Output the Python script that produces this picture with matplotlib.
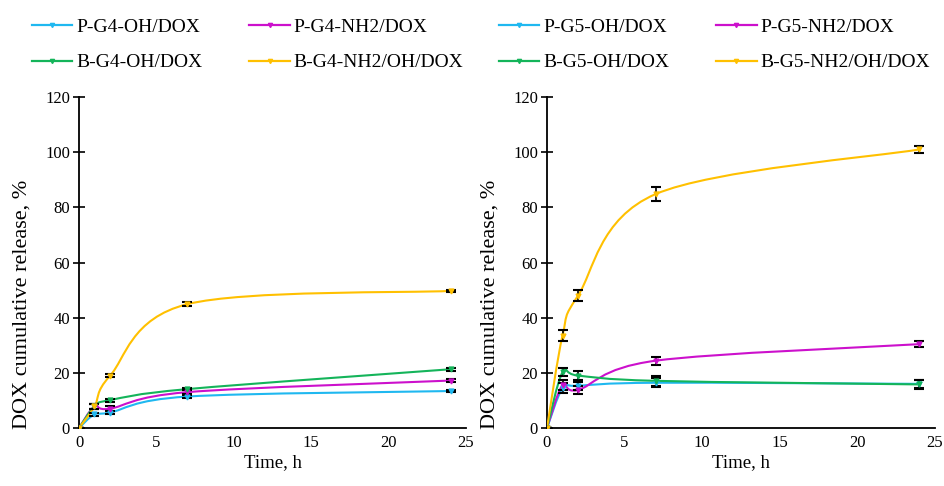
import numpy as np
import matplotlib
matplotlib.use("Agg")
import matplotlib.pyplot as plt
from matplotlib.path import Path
from matplotlib.patches import PathPatch

plt.rcParams['font.family'] = ['Liberation Serif', 'DejaVu Serif']

time_h = [0, 1, 2, 7, 24]

# Left panel (G4)
g4_labels = ["P-G4-OH/DOX", "P-G4-NH2/DOX", "B-G4-OH/DOX", "B-G4-NH2/OH/DOX"]
g4_p_oh = [0, 5.0, 5.6, 11.4, 13.4]
g4_p_nh2 = [0, 7.8, 7.0, 13.0, 17.2]
g4_b_oh = [0, 7.8, 10.1, 14.1, 21.3]
g4_b_nh2oh = [0, 7.8, 18.9, 44.9, 49.7]
g4_p_oh_err = [0, 0.6, 0.6, 0.6, 0.5]
g4_p_nh2_err = [0, 1.0, 0.8, 0.8, 0.5]
g4_b_oh_err = [0, 1.0, 0.5, 0.5, 0.5]
g4_b_nh2oh_err = [0, 1.0, 0.5, 0.6, 0.4]

# Right panel (G5)
g5_labels = ["P-G5-OH/DOX", "P-G5-NH2/DOX", "B-G5-OH/DOX", "B-G5-NH2/OH/DOX"]
g5_p_oh = [0, 14.4, 15.3, 16.4, 16.0]
g5_p_nh2 = [0, 15.6, 13.8, 24.4, 30.4]
g5_b_oh = [0, 20.2, 19.0, 17.1, 15.8]
g5_b_nh2oh = [0, 33.5, 48.0, 84.8, 101.0]
g5_p_oh_err = [0, 1.8, 1.5, 1.7, 1.5]
g5_p_nh2_err = [0, 1.8, 1.5, 1.5, 1.2]
g5_b_oh_err = [0, 1.5, 1.5, 1.7, 1.5]
g5_b_nh2oh_err = [0, 2.0, 2.0, 2.6, 1.2]

colors = ["#1FB8F0", "#CC10CC", "#14B45A", "#FFC000"]

x_ticks = [0, 5, 10, 15, 20, 25]
y_ticks = [0, 20, 40, 60, 80, 100, 120]


def smooth_path(x, y):
    x = np.asarray(x, float)
    y = np.asarray(y, float)
    n = len(x)
    verts = [(x[0], y[0])]
    codes = [Path.MOVETO]
    for i in range(n - 1):
        p0 = np.array([x[max(i - 1, 0)], y[max(i - 1, 0)]])
        p1 = np.array([x[i], y[i]])
        p2 = np.array([x[i + 1], y[i + 1]])
        p3 = np.array([x[min(i + 2, n - 1)], y[min(i + 2, n - 1)]])
        c1 = p1 + (p2 - p0) / 6.0
        c2 = p2 - (p3 - p1) / 6.0
        verts += [tuple(c1), tuple(c2), tuple(p2)]
        codes += [Path.CURVE4] * 3
    return Path(verts, codes)


fig = plt.figure(figsize=(9.45, 4.86), dpi=100)
ax1 = fig.add_axes([79 / 945, 1 - 428 / 486, (466 - 79) / 945, (428 - 97) / 486])
ax2 = fig.add_axes([547 / 945, 1 - 428 / 486, (935 - 547) / 945, (428 - 97) / 486])

panels = [
    (ax1, g4_labels, [g4_p_oh, g4_p_nh2, g4_b_oh, g4_b_nh2oh],
     [g4_p_oh_err, g4_p_nh2_err, g4_b_oh_err, g4_b_nh2oh_err], 18 / 945),
    (ax2, g5_labels, [g5_p_oh, g5_p_nh2, g5_b_oh, g5_b_nh2oh],
     [g5_p_oh_err, g5_p_nh2_err, g5_b_oh_err, g5_b_nh2oh_err], 485 / 945),
]

for ax, labels, series, errs, legx in panels:
    handles = []
    for vals, err, col, lab in zip(series, errs, colors, labels):
        patch = PathPatch(smooth_path(time_h, vals), facecolor='none',
                          edgecolor=col, lw=1.5, zorder=3)
        ax.add_patch(patch)
        ax.errorbar(time_h, vals, yerr=err, fmt='none', ecolor='black',
                    elinewidth=1.2, capsize=3.8, capthick=1.5, zorder=4)
        ax.plot(time_h, vals, linestyle='none', marker='v', markersize=3.5,
                color=col, zorder=5)
        h, = ax.plot([], [], color=col, lw=1.6, marker='v', markersize=3,
                     markevery=[1], label=lab)
        handles.append(h)
    ax.set_xlim(0, 25)
    ax.set_ylim(0, 120)
    ax.set_xticks(x_ticks)
    ax.set_yticks(y_ticks)
    ax.spines['top'].set_visible(False)
    ax.spines['right'].set_visible(False)
    ax.spines['left'].set_linewidth(1.3)
    ax.spines['bottom'].set_linewidth(1.3)
    ax.tick_params(axis='y', direction='inout', length=9, width=1.2,
                   labelsize=12, pad=2)
    ax.tick_params(axis='x', length=0, labelsize=12, pad=5)
    ax.set_xlabel("Time, h", fontsize=13.5, labelpad=2)
    ax.set_ylabel("DOX cumulative release, %", fontsize=16)
    ax.yaxis.set_label_coords(-0.122, 0.375)
    order = [0, 2, 1, 3]
    ax.legend([handles[i] for i in order], [labels[i] for i in order],
              ncol=2, loc='upper left', bbox_to_anchor=(legx, 1.0 - 5 / 486),
              bbox_transform=fig.transFigure, frameon=False, fontsize=14,
              handlelength=2.1, handletextpad=0.2, columnspacing=2.4,
              labelspacing=0.9, borderaxespad=0.3)

fig.savefig("out.png", dpi=100)
